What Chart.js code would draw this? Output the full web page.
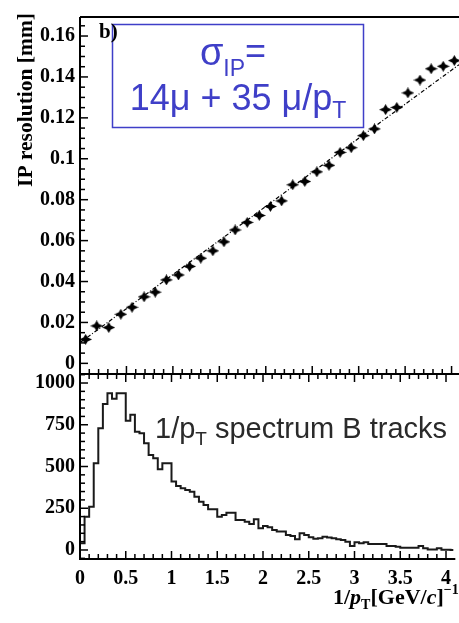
<!DOCTYPE html>
<html><head><meta charset="utf-8">
<script src="https://cdn.jsdelivr.net/npm/chart.js@4.4.0/dist/chart.umd.min.js"></script>
<style>
html,body{margin:0;padding:0;background:#fff;overflow:hidden}
#wrap{position:relative;width:459px;height:623px;background:#fff}
canvas{position:absolute;left:0;top:0}
</style></head><body>
<div id="wrap"><canvas id="cTop" width="459" height="623"></canvas><canvas id="cBot" width="459" height="623"></canvas></div>
<script>
// ---- data ----
const ipX = [0.06,0.18,0.31,0.44,0.56,0.69,0.81,0.93,1.06,1.18,1.30,1.43,1.55,1.67,1.80,1.93,2.05,2.17,2.29,2.42,2.55,2.68,2.80,2.92,3.05,3.17,3.29,3.41,3.53,3.66,3.78,3.91,4.03];
const ipY = [0.0117,0.0183,0.0175,0.0240,0.0274,0.0325,0.0348,0.0408,0.0432,0.0474,0.0514,0.0550,0.0594,0.0652,0.0689,0.0723,0.0767,0.0794,0.0873,0.0889,0.0936,0.0968,0.1031,0.1054,0.1113,0.1146,0.1240,0.1251,0.1322,0.1385,0.1440,0.1452,0.1480];
const fitX = [0, 4.08];
const fitY = [0.0101, 0.1460];
const histCounts = [40,199,259,519,729,874,938,906,938,938,774,810,708,699,639,569,549,483,519,519,410,383,369,359,349,319,289,269,244,244,199,210,223,223,180,180,169,156,184,130,144,136,120,110,110,90,84,64,100,90,76,68,70,80,75,70,65,60,50,24,46,40,46,36,36,36,36,24,24,20,14,14,14,14,24,10,3,3,10,2,2,0];
const histBinWidth = 0.05;
const xRange = [0, 4.08];
const ipRange = [-0.0052, 0.1693];
const countRange = [-54, 1054];
const xTickValues = [0,0.5,1,1.5,2,2.5,3,3.5,4];
const xTickLabels = ['0','0.5','1','1.5','2','2.5','3','3.5','4'];
const ipTickValues = [0,0.02,0.04,0.06,0.08,0.1,0.12,0.14,0.16];
const ipTickLabels = ['0','0.02','0.04','0.06','0.08','0.1','0.12','0.14','0.16'];
const countTickValues = [0,250,500,750,1000];
const countTickLabels = ['0','250','500','750','1000'];

const serif = '"Liberation Serif","DejaVu Serif",serif';
const sans = '"Liberation Sans",Arial,sans-serif';
const blue = '#3f3fc8';

// star marker
const star = document.createElement('canvas');
star.width = 13; star.height = 11;
(function(){const s=star.getContext('2d');s.fillStyle='#000';s.beginPath();
s.moveTo(6.5,0);s.lineTo(8.6,3.6);s.lineTo(13,5.5);s.lineTo(8.6,7.4);s.lineTo(6.5,11);s.lineTo(4.4,7.4);s.lineTo(0,5.5);s.lineTo(4.4,3.6);s.closePath();s.fill();})();

function line(ctx,x1,y1,x2,y2){ctx.beginPath();ctx.moveTo(x1,y1);ctx.lineTo(x2,y2);ctx.stroke();}

function xTicks(ctx, xs, y, dir){
  for(let k=0;k<=40;k++){const v=k*0.1;const px=xs.getPixelForValue(v);
    const len=(k%5===0)?8:5; line(ctx,px,y,px,y+dir*len);}
}

const topDeco = {
  id:'topDeco',
  afterDraw(chart){
    const ctx=chart.ctx, ca=chart.chartArea, xs=chart.scales.x, ys=chart.scales.y;
    ctx.save();
    ctx.strokeStyle='#000'; ctx.lineWidth=2;
    line(ctx,ca.left,ca.top,ca.left,ca.bottom);
    line(ctx,ca.left,ca.top,ca.right+2,ca.top);
    line(ctx,ca.left,ca.bottom,ca.right+2,ca.bottom);
    ctx.lineWidth=1.5;
    for(let k=0;k<=33;k++){const v=k*0.005;const py=ys.getPixelForValue(v);
      const len=(k%4===0)?8:5; line(ctx,ca.left,py,ca.left+len,py);}
    xTicks(ctx,xs,ca.bottom,-1);
    // formula box
    ctx.strokeStyle=blue; ctx.lineWidth=1.5;
    ctx.strokeRect(112.5,24.5,251,103);
    ctx.fillStyle=blue; ctx.textBaseline='alphabetic';
    // line 1: sigma_IP =
    const s1='\u03C3', sub1='IP', eq='=';
    ctx.font='38px '+sans; const w1=ctx.measureText(s1).width;
    ctx.font='23px '+sans; const w2=ctx.measureText(sub1).width;
    ctx.font='36px '+sans; const w3=ctx.measureText(eq).width;
    let x0=233-(w1+w2+w3)/2;
    ctx.font='38px '+sans; ctx.fillText(s1,x0,65);
    ctx.font='23px '+sans; ctx.fillText(sub1,x0+w1,76);
    ctx.font='36px '+sans; ctx.fillText(eq,x0+w1+w2,63);
    // line 2
    const t2='14\u03BC + 35 \u03BC/p';
    ctx.font='36px '+sans; const wa=ctx.measureText(t2).width;
    ctx.font='23px '+sans; const wb=ctx.measureText('T').width;
    x0=238-(wa+wb)/2;
    ctx.font='36px '+sans; ctx.fillText(t2,x0,110);
    ctx.font='23px '+sans; ctx.fillText('T',x0+wa,118);
    // b)
    ctx.fillStyle='#000'; ctx.font='bold 21px '+serif; ctx.fillText('b)',99,38);
    // y title
    ctx.translate(26,13); ctx.rotate(-Math.PI/2);
    ctx.textAlign='right'; ctx.textBaseline='middle';
    ctx.font='bold 21.5px '+serif; ctx.fillText('IP resolution [mm]',0,0);
    ctx.restore();
  }
};

const botDeco = {
  id:'botDeco',
  afterDraw(chart){
    const ctx=chart.ctx, ca=chart.chartArea, xs=chart.scales.x, ys=chart.scales.y;
    ctx.save();
    ctx.strokeStyle='#000'; ctx.lineWidth=2;
    line(ctx,ca.left,ca.top,ca.left,ca.bottom+1);
    line(ctx,ca.left,ca.bottom,ca.right+2,ca.bottom);
    line(ctx,ca.left,ca.top,ca.right+2,ca.top);
    ctx.lineWidth=1.5;
    for(let k=-1;k<=21;k++){const v=k*50;const py=ys.getPixelForValue(v);
      if(py<ca.top||py>ca.bottom) continue;
      const len=(k%5===0)?8:5; line(ctx,ca.left,py,ca.left+len,py);}
    xTicks(ctx,xs,ca.bottom,-1);
    xTicks(ctx,xs,ca.top,1);
    // label
    ctx.fillStyle='#2a2a2a'; ctx.textBaseline='alphabetic';
    let x=155;
    ctx.font='29px '+sans; ctx.fillText('1/p',x,438); x+=ctx.measureText('1/p').width;
    ctx.font='19px '+sans; ctx.fillText('T',x,445); x+=ctx.measureText('T').width;
    ctx.font='29px '+sans; ctx.fillText(' spectrum B tracks',x,438);
    // x title
    ctx.fillStyle='#000';
    x=333; const by=604;
    const parts=[['1/','bold 22px',0],['p','italic bold 22px',0],['T','bold 14px',5],['[GeV/','bold 22px',0],['c','italic bold 22px',0],[']','bold 22px',0],['\u22121','bold 14px',-10]];
    for(const p of parts){ctx.font=p[1]+' '+serif; ctx.fillText(p[0],x,by+p[2]); x+=ctx.measureText(p[0]).width;}
    ctx.restore();
  }
};

const tickFont = {family: serif, size: 20, weight: 'bold'};

new Chart(document.getElementById('cTop'), {
  type:'scatter',
  data:{datasets:[
    {data: ipX.map((x,i)=>({x:x,y:ipY[i]})), pointStyle: star, pointRadius: 6, showLine:false, backgroundColor:'#000', borderColor:'#000'},
    {data: fitX.map((x,i)=>({x:x,y:fitY[i]})), showLine:true, pointRadius:0, borderColor:'#000', borderWidth:1.2, borderDash:[4,2,1,2]}
  ]},
  options:{
    responsive:false, animation:false, events:[],
    layout:{padding:{left:0,right:0,top:5,bottom:249}, autoPadding:false},
    plugins:{legend:{display:false}, tooltip:{enabled:false}},
    scales:{
      x:{type:'linear', min:xRange[0], max:xRange[1], display:false},
      y:{type:'linear', min:ipRange[0], max:ipRange[1],
         afterFit(s){s.width=80;},
         afterBuildTicks(s){s.ticks=ipTickValues.map(v=>({value:v}));},
         ticks:{callback:(v,i)=>ipTickLabels[i], font:tickFont, color:'#000', padding:5},
         grid:{display:false, drawTicks:false}, border:{display:false}}
    }
  },
  plugins:[topDeco]
});

new Chart(document.getElementById('cBot'), {
  type:'line',
  data:{datasets:[
    {data: histCounts.map((c,i)=>({x:i*histBinWidth, y:c})).concat([{x:histCounts.length*histBinWidth, y:histCounts[histCounts.length-1]}]),
     stepped:'before', borderColor:'#1a1a1a', borderWidth:2, pointRadius:0, fill:false}
  ]},
  options:{
    responsive:false, animation:false, events:[],
    layout:{padding:{left:0,right:0,top:374,bottom:0}, autoPadding:false},
    plugins:{legend:{display:false}, tooltip:{enabled:false}},
    scales:{
      x:{type:'linear', min:xRange[0], max:xRange[1],
         afterFit(s){s.height=64;},
         afterBuildTicks(s){s.ticks=xTickValues.map(v=>({value:v}));},
         ticks:{callback:(v,i)=>xTickLabels[i], font:tickFont, color:'#000', padding:8, maxRotation:0, autoSkip:false},
         grid:{display:false, drawTicks:false}, border:{display:false}},
      y:{type:'linear', min:countRange[0], max:countRange[1],
         afterFit(s){s.width=80;},
         afterBuildTicks(s){s.ticks=countTickValues.map(v=>({value:v}));},
         ticks:{callback:(v,i)=>countTickLabels[i], font:tickFont, color:'#000', padding:5},
         grid:{display:false, drawTicks:false}, border:{display:false}}
    }
  },
  plugins:[botDeco]
});
</script></body></html>
